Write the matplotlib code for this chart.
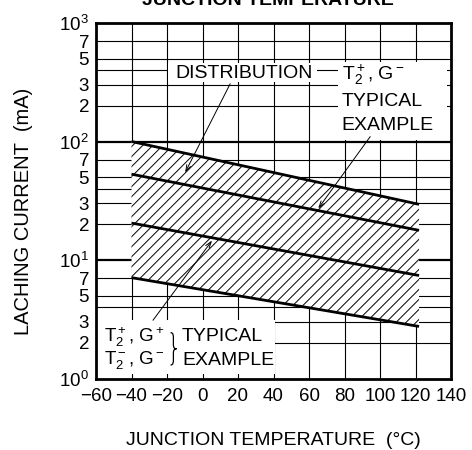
import matplotlib
matplotlib.use("Agg")
import matplotlib.pyplot as plt
from matplotlib.path import Path
from matplotlib.patches import PathPatch
from matplotlib.collections import LineCollection
import numpy as np

plt.rcParams['font.family'] = ['Liberation Sans', 'DejaVu Sans']
plt.rcParams['mathtext.fontset'] = 'custom'
plt.rcParams['mathtext.rm'] = 'Liberation Sans'
plt.rcParams['mathtext.it'] = 'Liberation Sans'

# Junction temperature (deg C) at the ends of each straight line
temp = [-40, 122]

# Latching current (mA) for the four lines, top to bottom
upper_limit = [100, 29.5]
typical_g_minus = [53, 17.8]
typical_g_plus = [20.5, 7.4]
lower_limit = [7.1, 2.75]

x_ticks = [-60, -40, -20, 0, 20, 40, 60, 80, 100, 120, 140]
y_ticks = [1, 2, 3, 5, 7, 10, 20, 30, 50, 70, 100, 200, 300, 500, 700, 1000]
y_labels = ['$10^0$', '2', '3', '5', '7', '$10^1$', '2', '3', '5', '7',
            '$10^2$', '2', '3', '5', '7', '$10^3$']
y_grid = [2, 3, 4, 5, 7, 20, 30, 40, 50, 70, 200, 300, 400, 500, 700]
y_decades = [10, 100]

fig = plt.figure(figsize=(4.72, 4.5), dpi=100)
ax = fig.add_axes([96 / 472, 1 - 378.5 / 450, 355 / 472, 355.5 / 450])
ax.set_yscale('log')
ax.set_xlim(-60, 140)
ax.set_ylim(1, 1000)

# grid
for v in y_grid:
    ax.axhline(v, color='black', lw=0.8, zorder=1)
for v in y_decades:
    ax.axhline(v, color='black', lw=1.6, zorder=1)
for v in x_ticks[1:-1]:
    ax.axvline(v, color='black', lw=0.8, zorder=1)

# distribution band, hatched by hand (about 10 px spacing)
band = ax.fill_between(temp, lower_limit, upper_limit, facecolor='white',
                       edgecolor='none', lw=0, zorder=2)
step = 10 / 355
offs = np.arange(-1.2, 1.2, step)
segs = [[(c, 0), (c + 1, 1)] for c in offs]
hatch = LineCollection(segs, colors='black', linewidths=0.7,
                       transform=ax.transAxes, zorder=2.5)
hatch.set_clip_path(band.get_paths()[0], ax.transData)
ax.add_collection(hatch)

for series in [upper_limit, typical_g_minus, typical_g_plus, lower_limit]:
    ax.plot(temp, series, color='black', lw=2.0, zorder=3,
            solid_capstyle='butt')

ax.set_xticks(x_ticks)
ax.set_yticks(y_ticks)
ax.set_yticklabels(y_labels)
ax.minorticks_off()
ax.tick_params(length=0, labelsize=13.5, pad=5)
ax.tick_params(axis='x', pad=7)
for s in ax.spines.values():
    s.set_linewidth(2)
    s.set_zorder(6)

ax.set_ylabel('LACHING CURRENT  (mA)', fontsize=14.5)
ax.yaxis.set_label_coords(-0.177, 0.471)
ax.set_xlabel('JUNCTION TEMPERATURE  (°C)', fontsize=14)
ax.xaxis.set_label_coords(0.5, -0.15)

fig.text(0.568, 1 - 5 / 450, 'JUNCTION TEMPERATURE', fontsize=14,
         fontweight='bold', ha='center', va='baseline')

# white boxes behind the notes
def white_box(x0, y0, x1, y1):
    ax.add_patch(plt.Rectangle((x0, y0), x1 - x0, y1 - y0,
                               transform=ax.transAxes, facecolor='white',
                               edgecolor='none', zorder=4))

white_box(0.203, 0.834, 0.623, 0.887)
white_box(0.682, 0.671, 0.989, 0.890)
white_box(0.004, 0.013, 0.505, 0.1645)

tk = dict(fontsize=14, transform=ax.transAxes, zorder=5, va='center')
ax.text(0.416, 0.859, 'DISTRIBUTION', ha='center', **tk)
ax.text(0.692, 0.854, 'T$_2^+$, G$^-$', ha='left', **tk)
ax.text(0.692, 0.779, 'TYPICAL', ha='left', **tk)
ax.text(0.692, 0.713, 'EXAMPLE', ha='left', **tk)
tk_small = dict(tk, fontsize=13.5)
ax.text(0.022, 0.1176, 'T$_2^+$, G$^+$', ha='left', **tk_small)
ax.text(0.022, 0.052, 'T$_2^-$, G$^-$', ha='left', **tk_small)
ax.text(0.242, 0.1176, 'TYPICAL', ha='left', **tk)
ax.text(0.242, 0.052, 'EXAMPLE', ha='left', **tk)

# thin curly brace
x0, x1, x2 = 0.210, 0.218, 0.227
yt, ym, yb = 0.129, 0.0835, 0.038
verts = [(x0, yt), (x1, yt), (x1, yt - 0.008), (x1, yt - 0.016),
         (x1, ym + 0.012),
         (x1, ym + 0.003), (x1 + 0.003, ym), (x2, ym),
         (x1 + 0.003, ym), (x1, ym - 0.003), (x1, ym - 0.012),
         (x1, yb + 0.016),
         (x1, yb + 0.008), (x1, yb), (x0, yb)]
codes = [Path.MOVETO, Path.CURVE4, Path.CURVE4, Path.CURVE4,
         Path.LINETO,
         Path.CURVE4, Path.CURVE4, Path.CURVE4,
         Path.CURVE4, Path.CURVE4, Path.CURVE4,
         Path.LINETO,
         Path.CURVE4, Path.CURVE4, Path.CURVE4]
ax.add_patch(PathPatch(Path(verts, codes), facecolor='none', edgecolor='black',
                       lw=0.9, transform=ax.transAxes, zorder=5))

# arrows
ap = dict(arrowstyle='->,head_length=0.45,head_width=0.15', lw=0.7,
          color='black', shrinkA=0, shrinkB=0)
ax.annotate('', xy=(-9.8, 54.7), xytext=(15.6, 307), arrowprops=ap, zorder=5)
ax.annotate('', xy=(65.2, 27.2), xytext=(94.5, 110), arrowprops=ap, zorder=5)
ax.annotate('', xy=(5.4, 14.6), xytext=(-27.9, 3.1), arrowprops=ap, zorder=5)

fig.savefig('out.png', dpi=100)
